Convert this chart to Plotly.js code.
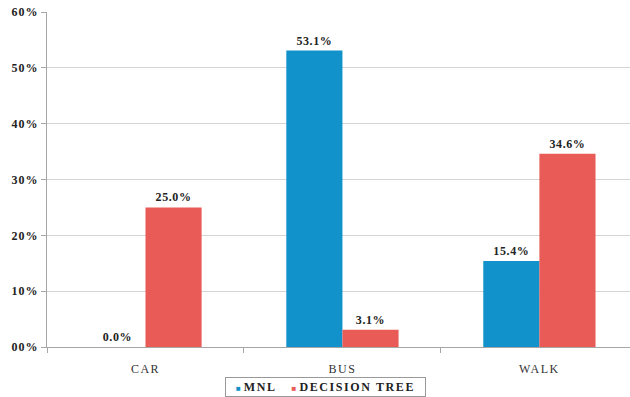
<!DOCTYPE html>
<html>
<head>
<meta charset="utf-8">
<script src="https://cdn.plot.ly/plotly-3.0.1.min.js"></script>
<style>
  html, body { margin: 0; padding: 0; background: #ffffff; }
  #chart { width: 630px; height: 397px; }
</style>
</head>
<body>
<div id="chart"></div>
<script>
// Travel mode shares predicted by each model
const modes = ['CAR', 'BUS', 'WALK'];
const seriesNames = ['MNL', 'DECISION TREE'];
const seriesColors = ['#1192CA', '#E95B57'];
const mnlShare = [0.0, 53.1, 15.4];
const treeShare = [25.0, 3.1, 34.6];
const yTickVals = [0, 10, 20, 30, 40, 50, 60];
const yTickText = ['00%', '10%', '20%', '30%', '40%', '50%', '60%'];

const serif = '"Times New Roman", "Liberation Serif", serif';
const spaced = (s, px) => `<span style="letter-spacing:${px}px">${s}</span>`;
const pct = v => spaced(v.toFixed(1) + '%', 0.6);

const traces = [mnlShare, treeShare].map((vals, i) => ({
  type: 'bar', name: seriesNames[i], x: modes, y: vals,
  text: vals.map(pct), textposition: 'outside', cliponaxis: false,
  textfont: { family: serif, size: 12, color: '#222222', weight: 'bold' },
  marker: { color: seriesColors[i] },
  hoverinfo: 'skip'
}));

// Compact boxed key under the axis labels
const keyText = seriesNames
  .map((n, i) => `<span style="color:${seriesColors[i]};font-size:8px">■</span> ${spaced(n, 1.6)}`)
  .join('&nbsp;&nbsp;&nbsp;&nbsp;&nbsp;');

const layout = {
  width: 630, height: 397,
  margin: { l: 47, r: 0, t: 12, b: 50 },
  paper_bgcolor: '#ffffff', plot_bgcolor: '#ffffff',
  barmode: 'group', bargap: 0.43, bargroupgap: 0,
  showlegend: false,
  font: { family: serif, color: '#222222' },
  xaxis: {
    type: 'category', range: [-0.5, 2.46],
    tickmode: 'array', tickvals: modes, ticktext: modes.map(m => spaced(m, 1.5)),
    showline: true, linecolor: '#A6A6A6', linewidth: 1,
    ticks: 'outside', tickson: 'boundaries', ticklen: 5, tickcolor: '#A6A6A6',
    ticklabelstandoff: 11,
    tickfont: { family: serif, size: 12, color: '#333333' },
    showgrid: false, zeroline: false, fixedrange: true
  },
  yaxis: {
    range: [0, 60], tickmode: 'array', tickvals: yTickVals,
    ticktext: yTickText.map(t => spaced(t, 1)),
    showline: true, linecolor: '#A6A6A6', linewidth: 1,
    ticks: 'outside', ticklen: 5, tickcolor: '#A6A6A6',
    tickfont: { family: serif, size: 12, color: '#222222', weight: 'bold' },
    showgrid: true, gridcolor: '#D4D4D4', gridwidth: 1,
    zeroline: false, fixedrange: true
  },
  annotations: [{
    xref: 'paper', yref: 'paper', x: 0.477, y: -0.12,
    xanchor: 'center', yanchor: 'middle',
    text: keyText, showarrow: false,
    width: 195, align: 'center',
    font: { family: serif, size: 12, color: '#222222', weight: 'bold' },
    bordercolor: '#999999', borderwidth: 1, borderpad: 2, bgcolor: '#ffffff'
  }]
};

Plotly.newPlot('chart', traces, layout, { displayModeBar: false, staticPlot: true });
</script>
</body>
</html>
